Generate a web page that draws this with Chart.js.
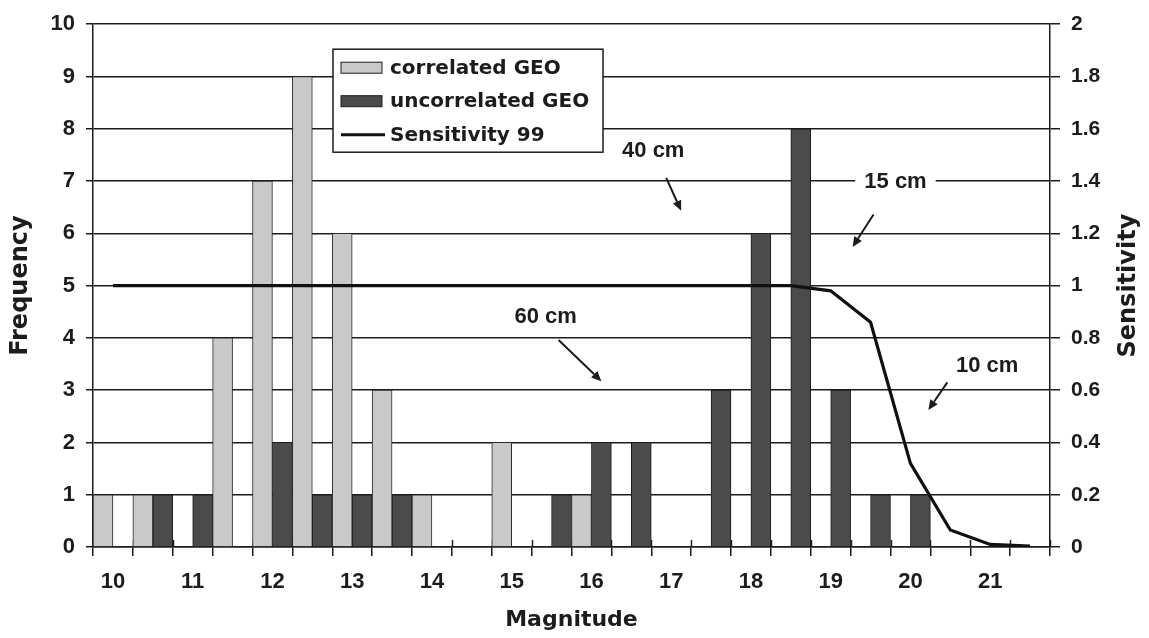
<!DOCTYPE html>
<html>
<head>
<meta charset="utf-8">
<script src="https://cdn.jsdelivr.net/npm/chart.js@4.4.1/dist/chart.umd.min.js"></script>
<style>
  html, body { margin: 0; padding: 0; background: #fff; }
  #wrap { width: 1149px; height: 638px; }
</style>
</head>
<body>
<div id="wrap"><canvas id="chart" width="1149" height="638"></canvas></div>
<script>
// Magnitude bins, half a magnitude wide
const magnitudes = [10, 10.5, 11, 11.5, 12, 12.5, 13, 13.5, 14, 14.5, 15, 15.5,
                    16, 16.5, 17, 17.5, 18, 18.5, 19, 19.5, 20, 20.5, 21, 21.5];
const magnitudeTickLabels = ['10', '', '11', '', '12', '', '13', '', '14', '', '15', '',
                             '16', '', '17', '', '18', '', '19', '', '20', '', '21', ''];

// Object counts per bin
const correlatedGeo   = [1, 1, 0, 4, 7, 9, 6, 3, 1, 0, 2, 0, 1, 0, 0, 0, 0, 0, 0, 0, 0, 0, 0, 0];
const uncorrelatedGeo = [0, 1, 1, 0, 2, 1, 1, 1, 0, 0, 0, 1, 2, 2, 0, 3, 6, 8, 3, 1, 1, 0, 0, 0];

// Detection sensitivity (99 %) per bin
const sensitivity99 = [1, 1, 1, 1, 1, 1, 1, 1, 1, 1, 1, 1, 1, 1, 1, 1, 1, 1,
                       0.98, 0.86, 0.32, 0.065, 0.01, 0.003];

const frequencyTickLabels   = ['0', '1', '2', '3', '4', '5', '6', '7', '8', '9', '10'];
const sensitivityTickLabels = ['0', '0.2', '0.4', '0.6', '0.8', '1', '1.2', '1.4', '1.6', '1.8', '2'];

// Object-size notes, placed in (bin index, frequency) units
const sizeNotes = [
  { text: '40 cm', at: [13.55, 7.57],  from: [13.875, 7.06], to: [14.25, 6.43], boxed: false },
  { text: '15 cm', at: [19.625, 6.98], from: [19.075, 6.36], to: [18.55, 5.74], boxed: true },
  { text: '60 cm', at: [10.85, 4.40],  from: [11.175, 3.96], to: [12.25, 3.17], boxed: false },
  { text: '10 cm', at: [21.925, 3.47], from: [20.925, 3.15], to: [20.45, 2.62], boxed: false }
];

const INK = '#1c1c1c';
const NUM_FONT = '"Liberation Sans", Arial, sans-serif';
const WORD_FONT = '"DejaVu Sans", "Liberation Sans", sans-serif';

function drawArrow(ctx, x1, y1, x2, y2) {
  const ang = Math.atan2(y2 - y1, x2 - x1);
  const head = 10, half = 4.5;
  const bx = x2 - head * Math.cos(ang), by = y2 - head * Math.sin(ang);
  ctx.beginPath();
  ctx.moveTo(x1, y1);
  ctx.lineTo(bx, by);
  ctx.lineWidth = 2;
  ctx.strokeStyle = INK;
  ctx.stroke();
  ctx.beginPath();
  ctx.moveTo(x2, y2);
  ctx.lineTo(bx + half * Math.sin(ang), by - half * Math.cos(ang));
  ctx.lineTo(bx - half * Math.sin(ang), by + half * Math.cos(ang));
  ctx.closePath();
  ctx.fillStyle = INK;
  ctx.fill();
}

const extrasPlugin = {
  id: 'extras',
  beforeDatasetsDraw(chart) {
    // short inner halves of the crossing tick marks on the magnitude axis
    const { ctx, chartArea } = chart;
    const xs = chart.scales.x;
    ctx.save();
    ctx.strokeStyle = INK;
    ctx.lineWidth = 1.5;
    for (let i = 0; i <= magnitudes.length; i++) {
      const px = Math.round(xs.getPixelForValue(i - 0.5)) + 0.5;
      ctx.beginPath();
      ctx.moveTo(px, chartArea.bottom - 7);
      ctx.lineTo(px, chartArea.bottom);
      ctx.stroke();
    }
    ctx.restore();
  },
  afterDatasetsDraw(chart) {
    const { ctx, chartArea } = chart;
    const xs = chart.scales.x, ys = chart.scales.y;

    // size notes with arrows
    ctx.save();
    ctx.font = 'bold 22px ' + NUM_FONT;
    ctx.textAlign = 'center';
    ctx.textBaseline = 'middle';
    sizeNotes.forEach(n => {
      const tx = xs.getPixelForValue(n.at[0]);
      const ty = ys.getPixelForValue(n.at[1]);
      if (n.boxed) {
        const w = ctx.measureText(n.text).width + 18;
        ctx.fillStyle = '#fff';
        ctx.fillRect(tx - w / 2, ty - 12, w, 24);
      }
      ctx.fillStyle = INK;
      ctx.fillText(n.text, tx, ty);
      drawArrow(ctx,
        xs.getPixelForValue(n.from[0]), ys.getPixelForValue(n.from[1]),
        xs.getPixelForValue(n.to[0]), ys.getPixelForValue(n.to[1]));
    });
    ctx.restore();

    // legend box
    ctx.save();
    const lx = chartArea.left + 240, ly = chartArea.top + 25;
    const lw = 270, lh = 103;
    ctx.fillStyle = '#fff';
    ctx.fillRect(lx, ly, lw, lh);
    ctx.lineWidth = 1.5;
    ctx.strokeStyle = INK;
    ctx.strokeRect(lx, ly, lw, lh);
    ctx.font = 'bold 20px ' + WORD_FONT;
    ctx.textAlign = 'left';
    ctx.textBaseline = 'middle';
    chart.data.datasets.forEach((ds, i) => {
      const ry = ly + 18.5 + i * 33.5;
      const sx = lx + 8;
      if (ds.type === 'line') {
        ctx.beginPath();
        ctx.moveTo(sx, ry);
        ctx.lineTo(sx + 44, ry);
        ctx.lineWidth = 3;
        ctx.strokeStyle = ds.borderColor;
        ctx.stroke();
      } else {
        ctx.fillStyle = ds.backgroundColor;
        ctx.fillRect(sx, ry - 5.5, 41, 11);
        ctx.lineWidth = 1;
        ctx.strokeStyle = INK;
        ctx.strokeRect(sx, ry - 5.5, 41, 11);
      }
      ctx.fillStyle = INK;
      ctx.fillText(ds.label, lx + 57, ry + 1);
    });
    ctx.restore();

    // right axis title, reading upward
    ctx.save();
    ctx.translate(chart.scales.y1.right - 20, (chartArea.top + chartArea.bottom) / 2);
    ctx.rotate(-Math.PI / 2);
    ctx.font = 'bold 24px ' + WORD_FONT;
    ctx.textAlign = 'center';
    ctx.textBaseline = 'middle';
    ctx.fillStyle = INK;
    ctx.fillText('Sensitivity', 0, 0);
    ctx.restore();
  }
};

new Chart(document.getElementById('chart'), {
  type: 'bar',
  data: {
    labels: magnitudes,
    datasets: [
      {
        type: 'bar',
        label: 'correlated GEO',
        data: correlatedGeo,
        backgroundColor: '#c9c9c9',
        borderColor: '#2a2a2a',
        borderWidth: 1,
        yAxisID: 'y',
        order: 2
      },
      {
        type: 'bar',
        label: 'uncorrelated GEO',
        data: uncorrelatedGeo,
        backgroundColor: '#4b4b4b',
        borderColor: '#1a1a1a',
        borderWidth: 1,
        yAxisID: 'y',
        order: 2
      },
      {
        type: 'line',
        label: 'Sensitivity 99',
        data: sensitivity99,
        borderColor: '#111',
        borderWidth: 3.2,
        pointRadius: 0,
        tension: 0,
        yAxisID: 'y1',
        order: 1
      }
    ]
  },
  options: {
    responsive: false,
    animation: false,
    devicePixelRatio: 1,
    layout: { padding: { top: 17, left: 0, right: 0, bottom: 0 } },
    datasets: { bar: { categoryPercentage: 1.0, barPercentage: 1.0 } },
    plugins: { legend: { display: false }, tooltip: { enabled: false } },
    scales: {
      x: {
        type: 'category',
        offset: true,
        grid: { offset: true, drawOnChartArea: false, drawTicks: true, tickLength: 9, color: INK, lineWidth: 1.5 },
        border: { display: true, color: INK, width: 1.5 },
        ticks: {
          autoSkip: false, maxRotation: 0, minRotation: 0, padding: 13,
          color: INK, font: { family: NUM_FONT, size: 22, weight: 'bold' },
          callback: (v, i) => magnitudeTickLabels[i]
        },
        title: {
          display: true, text: 'Magnitude', color: INK,
          font: { family: WORD_FONT, size: 22, weight: 'bold', lineHeight: 1 },
          padding: { top: 0, bottom: 7 }
        },
        afterFit: s => { s.height = 91; }
      },
      y: {
        position: 'left',
        min: 0, max: 10,
        ticks: {
          stepSize: 1, padding: 11, color: INK,
          font: { family: NUM_FONT, size: 22, weight: 'bold' },
          callback: (v, i) => frequencyTickLabels[i]
        },
        grid: { drawOnChartArea: true, drawTicks: true, tickLength: 7, color: INK, lineWidth: 1.5 },
        border: { display: true, color: INK, width: 1.5 },
        title: {
          display: true, text: 'Frequency', color: INK,
          font: { family: WORD_FONT, size: 24, weight: 'bold', lineHeight: 1 },
          padding: { top: 9, bottom: 0 }
        },
        afterFit: s => { s.width = 93; }
      },
      y1: {
        position: 'right',
        min: 0, max: 2,
        ticks: {
          stepSize: 0.2, padding: 11, color: INK,
          font: { family: NUM_FONT, size: 21, weight: 'bold' },
          callback: (v, i) => sensitivityTickLabels[i]
        },
        grid: { drawOnChartArea: false, drawTicks: true, tickLength: 10, color: INK, lineWidth: 1.5 },
        border: { display: true, color: INK, width: 1.5 },
        afterFit: s => { s.width = 99; }
      }
    }
  },
  plugins: [extrasPlugin]
});
</script>
</body>
</html>
